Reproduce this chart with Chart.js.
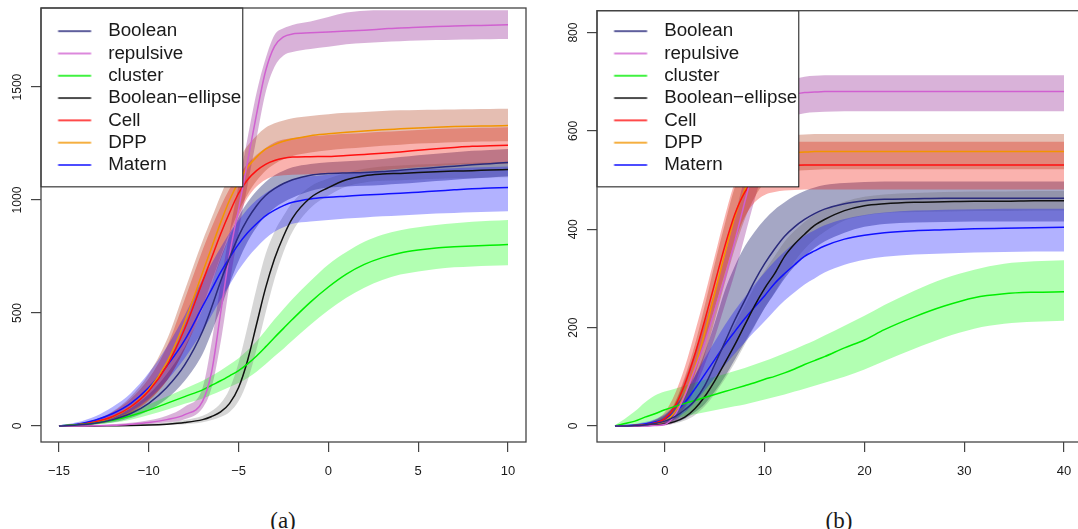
<!DOCTYPE html>
<html>
<head>
<meta charset="utf-8">
<script src="https://cdn.jsdelivr.net/npm/chart.js@4.4.1/dist/chart.umd.min.js"></script>
<style>
  html, body { margin: 0; padding: 0; background: #fff; overflow: hidden; }
  body { width: 1078px; height: 529px; position: relative; }
  canvas { position: absolute; top: 0; }
  #panelA { left: 0; }
  #panelB { left: 540px; }
  .caption {
    position: absolute; top: 507px; line-height: 28px;
    font-family: 'Liberation Serif', 'DejaVu Serif', serif; font-size: 23px; color: #1a1a1a;
    transform: translateX(-50%);
  }
</style>
</head>
<body>
<canvas id="panelA" width="540" height="490"></canvas>
<canvas id="panelB" width="560" height="490"></canvas>
<div class="caption" style="left:283px">(a)</div>
<div class="caption" style="left:839px">(b)</div>
<script>
// series, in legend order
const seriesNames = ['Boolean', 'repulsive', 'cluster', 'Boolean\u2212ellipse', 'Cell', 'DPP', 'Matern'];
const lineColors = ['#2a2a7c', '#d060d0', '#00ee00', '#111111', '#ff0f0f', '#f29400', '#1010ff'];
const bandColors = ['rgba(30,35,110,0.4)', 'rgba(128,0,128,0.3)', 'rgba(0,255,0,0.3)', 'rgba(90,90,90,0.25)',
                    'rgba(240,20,10,0.33)', 'rgba(168,40,0,0.3)', 'rgba(0,0,255,0.3)'];

// ---- panel (a) ----
const xA = [-15, -14, -13, -12, -11, -10, -9, -8, -7, -6.5, -6, -5.5, -5, -4.5, -4, -3.5, -3, -2.5, -2, -1, 0, 1, 2, 3, 4, 5, 6, 7, 8, 9, 10];
const xTicksA = [-15, -10, -5, 0, 5, 10];
const yTicksA = [0, 500, 1000, 1500];

const booleanA   = [0, 4, 12, 28, 55, 100, 170, 270, 420, 525, 640, 745, 840, 915, 975, 1020, 1050, 1073, 1090, 1110, 1117, 1120, 1122, 1126, 1132, 1138, 1144, 1150, 1156, 1161, 1166];
const booleanLoA = [0, 2, 6, 16, 35, 68, 120, 200, 320, 415, 520, 630, 730, 815, 880, 930, 965, 990, 1010, 1040, 1055, 1060, 1063, 1067, 1072, 1078, 1084, 1090, 1095, 1100, 1105];
const booleanHiA = [3, 8, 20, 42, 80, 140, 230, 350, 520, 630, 745, 840, 925, 990, 1040, 1080, 1110, 1130, 1145, 1160, 1167, 1172, 1176, 1182, 1190, 1198, 1205, 1212, 1218, 1222, 1226];

const repulsiveA   = [0, 0, 1, 3, 8, 15, 28, 50, 110, 240, 500, 760, 960, 1170, 1380, 1570, 1680, 1722, 1735, 1740, 1744, 1748, 1752, 1757, 1762, 1765, 1768, 1770, 1772, 1774, 1776];
const repulsiveLoA = [0, 0, 0, 1, 4, 8, 16, 30, 80, 170, 370, 630, 860, 1065, 1275, 1475, 1590, 1640, 1655, 1668, 1678, 1690, 1695, 1700, 1703, 1706, 1708, 1710, 1711, 1712, 1713];
const repulsiveHiA = [2, 3, 5, 8, 14, 25, 45, 85, 170, 370, 630, 860, 1065, 1275, 1475, 1625, 1730, 1760, 1775, 1790, 1810, 1830, 1838, 1840, 1840, 1840, 1840, 1840, 1840, 1840, 1840];

const clusterA   = [0, 5, 12, 25, 45, 70, 100, 130, 160, 180, 200, 222, 245, 275, 310, 350, 392, 432, 472, 548, 615, 672, 715, 745, 766, 779, 788, 793, 797, 800, 803];
const clusterLoA = [0, 2, 6, 14, 28, 48, 72, 98, 122, 138, 155, 172, 190, 212, 240, 273, 308, 342, 378, 448, 512, 568, 612, 646, 670, 684, 695, 702, 706, 709, 711];
const clusterHiA = [2, 10, 22, 40, 65, 95, 130, 165, 200, 222, 245, 272, 300, 335, 375, 423, 472, 518, 562, 642, 715, 770, 815, 846, 866, 879, 889, 897, 904, 908, 912];

const ellipseA   = [0, 0, 0, 1, 2, 4, 8, 15, 28, 42, 62, 100, 170, 290, 450, 610, 740, 840, 920, 1010, 1055, 1090, 1108, 1115, 1118, 1122, 1125, 1128, 1130, 1133, 1135];
const ellipseLoA = [0, 0, 0, 0, 1, 2, 4, 8, 16, 26, 40, 62, 110, 200, 340, 500, 650, 770, 860, 965, 1020, 1060, 1078, 1085, 1088, 1091, 1094, 1096, 1098, 1100, 1101];
const ellipseHiA = [1, 1, 2, 3, 5, 9, 15, 26, 45, 66, 100, 165, 280, 440, 610, 760, 860, 930, 990, 1060, 1095, 1120, 1138, 1148, 1153, 1157, 1160, 1163, 1165, 1167, 1169];

const cellA   = [0, 5, 18, 42, 85, 155, 265, 430, 640, 745, 850, 945, 1030, 1090, 1130, 1158, 1175, 1185, 1190, 1192, 1193, 1197, 1202, 1207, 1213, 1220, 1227, 1233, 1238, 1240, 1242];
const cellLoA = [0, 2, 10, 28, 60, 115, 200, 340, 520, 630, 735, 840, 930, 1010, 1060, 1090, 1105, 1110, 1112, 1114, 1116, 1120, 1126, 1132, 1138, 1145, 1150, 1155, 1158, 1160, 1162];
const cellHiA = [2, 10, 28, 62, 120, 210, 350, 560, 780, 880, 970, 1050, 1110, 1160, 1200, 1230, 1255, 1268, 1275, 1282, 1288, 1293, 1297, 1302, 1306, 1310, 1314, 1317, 1319, 1320, 1322];

const dppA   = [0, 4, 16, 40, 85, 160, 280, 460, 680, 790, 900, 1000, 1080, 1145, 1190, 1225, 1245, 1260, 1270, 1285, 1293, 1300, 1306, 1311, 1315, 1319, 1322, 1325, 1327, 1328, 1330];
const dppLoA = [0, 2, 8, 24, 55, 110, 200, 340, 530, 640, 750, 855, 950, 1025, 1085, 1130, 1160, 1180, 1195, 1210, 1220, 1228, 1234, 1240, 1245, 1250, 1253, 1256, 1258, 1259, 1260];
const dppHiA = [2, 9, 28, 65, 130, 230, 380, 600, 820, 920, 1020, 1110, 1180, 1240, 1285, 1320, 1340, 1352, 1362, 1372, 1380, 1386, 1390, 1394, 1397, 1399, 1400, 1401, 1402, 1403, 1404];

const maternA   = [0, 8, 25, 55, 100, 170, 265, 380, 530, 605, 680, 745, 805, 855, 895, 930, 955, 975, 990, 1005, 1012, 1017, 1022, 1026, 1030, 1035, 1040, 1045, 1050, 1053, 1056];
const maternLoA = [0, 3, 12, 32, 65, 120, 200, 300, 420, 490, 560, 625, 690, 745, 790, 830, 860, 880, 895, 905, 912, 918, 923, 928, 932, 936, 940, 943, 946, 948, 950];
const maternHiA = [3, 16, 42, 85, 145, 235, 350, 490, 650, 720, 790, 855, 910, 960, 1000, 1030, 1055, 1075, 1090, 1105, 1112, 1117, 1122, 1126, 1130, 1134, 1138, 1141, 1144, 1146, 1148];

// ---- panel (b) ----
const xB = [-5, -4, -3, -2, -1, 0, 1, 2, 3, 4, 5, 6, 7, 8, 9, 10, 11, 12, 13, 14, 15, 16, 18, 20, 22, 25, 28, 31, 34, 37, 40];
const xTicksB = [0, 10, 20, 30, 40];
const yTicksB = [0, 200, 400, 600, 800];

const booleanB   = [0, 0, 1, 2, 5, 10, 19, 33, 52, 82, 125, 170, 215, 255, 295, 330, 360, 386, 405, 420, 432, 441, 452, 458, 461, 462, 463, 463, 463, 463, 463];
const booleanLoB = [0, 0, 0, 0, 1, 3, 7, 15, 28, 45, 70, 100, 135, 170, 205, 240, 270, 300, 325, 345, 362, 375, 393, 405, 411, 414, 415, 416, 416, 416, 416];
const booleanHiB = [0, 1, 3, 6, 12, 22, 40, 65, 100, 150, 210, 275, 325, 365, 395, 420, 440, 455, 468, 478, 485, 490, 494, 496, 497, 497, 497, 497, 497, 497, 497];

const repulsiveB   = [0, 0, 0, 0, 1, 3, 22, 62, 115, 170, 235, 300, 375, 455, 530, 585, 640, 665, 674, 678, 679, 680, 680, 680, 680, 680, 680, 680, 680, 680, 680];
const repulsiveLoB = [0, 0, 0, 0, 0, 1, 8, 35, 75, 125, 180, 245, 310, 385, 460, 530, 585, 615, 630, 636, 638, 639, 640, 640, 640, 640, 640, 640, 640, 640, 640];
const repulsiveHiB = [0, 0, 1, 2, 5, 15, 45, 95, 150, 210, 275, 345, 425, 505, 575, 630, 670, 695, 705, 710, 712, 713, 713, 713, 713, 713, 713, 713, 713, 713, 713];

const clusterB   = [0, 5, 10, 18, 25, 33, 40, 46, 52, 58, 64, 70, 76, 82, 88, 95, 101, 108, 116, 125, 133, 141, 159, 175, 196, 222, 244, 261, 269, 272, 273];
const clusterLoB = [0, 1, 3, 6, 9, 12, 16, 20, 24, 28, 32, 36, 40, 44, 49, 54, 59, 64, 70, 76, 82, 88, 100, 115, 132, 157, 180, 198, 208, 212, 214];
const clusterHiB = [2, 15, 30, 48, 62, 70, 76, 82, 88, 94, 100, 106, 112, 118, 125, 132, 140, 148, 156, 165, 174, 184, 204, 224, 246, 275, 300, 318, 330, 335, 337];

const ellipseB   = [0, 0, 0, 1, 2, 4, 9, 18, 35, 60, 92, 128, 165, 205, 245, 280, 310, 345, 370, 390, 408, 420, 438, 448, 452, 455, 456, 457, 457, 458, 458];
const ellipseLoB = [0, 0, 0, 0, 1, 2, 5, 11, 22, 40, 65, 95, 128, 165, 203, 240, 272, 305, 335, 360, 380, 395, 418, 428, 433, 435, 436, 437, 437, 438, 438];
const ellipseHiB = [0, 0, 1, 2, 4, 8, 16, 30, 52, 85, 125, 165, 205, 245, 283, 315, 345, 375, 397, 415, 430, 440, 456, 466, 471, 474, 476, 477, 477, 478, 478];

const cellB   = [0, 0, 1, 2, 6, 15, 40, 85, 145, 215, 290, 365, 430, 475, 502, 516, 524, 528, 530, 531, 531, 531, 531, 531, 531, 531, 531, 531, 531, 531, 531];
const cellLoB = [0, 0, 0, 1, 3, 8, 22, 55, 105, 170, 240, 310, 375, 425, 455, 470, 476, 479, 480, 481, 481, 481, 481, 481, 481, 481, 481, 481, 481, 481, 481];
const cellHiB = [0, 1, 2, 5, 12, 28, 65, 120, 190, 265, 345, 425, 495, 540, 562, 572, 576, 578, 578, 578, 578, 578, 578, 578, 578, 578, 578, 578, 578, 578, 578];

const dppB   = [0, 0, 1, 2, 4, 10, 28, 65, 120, 190, 270, 350, 425, 480, 518, 538, 548, 553, 556, 557, 558, 558, 558, 558, 558, 558, 558, 558, 558, 558, 558];
const dppLoB = [0, 0, 0, 1, 2, 5, 15, 40, 85, 145, 215, 290, 360, 420, 465, 495, 510, 516, 519, 520, 521, 522, 522, 522, 522, 522, 522, 522, 522, 522, 522];
const dppHiB = [0, 1, 2, 4, 8, 20, 48, 100, 165, 245, 330, 410, 485, 535, 565, 580, 587, 590, 592, 593, 594, 594, 594, 594, 594, 594, 594, 594, 594, 594, 594];

const maternB   = [0, 1, 2, 4, 8, 14, 28, 48, 75, 105, 135, 165, 192, 218, 242, 265, 290, 310, 328, 345, 356, 366, 380, 388, 393, 397, 399, 401, 402, 403, 404];
const maternLoB = [0, 0, 0, 1, 3, 6, 14, 28, 48, 72, 98, 123, 147, 170, 192, 213, 235, 255, 272, 288, 300, 312, 328, 338, 344, 349, 351, 353, 354, 355, 355];
const maternHiB = [0, 2, 4, 8, 14, 24, 42, 68, 102, 138, 172, 205, 235, 262, 288, 312, 335, 355, 372, 387, 398, 408, 421, 429, 434, 438, 440, 441, 442, 442, 442];

const axisColor = '#444';
const textColor = '#1a1a1a';
const sansFamily = "'Liberation Sans', Arial, sans-serif";

Chart.defaults.font.family = sansFamily;

function toPoints(xs, ys) {
  return xs.map((x, i) => ({ x: x, y: ys[i] }));
}

// short line sample for the legend, padded on the left like R's legend()
function legendSwatch(color) {
  const c = document.createElement('canvas');
  c.width = 54;
  c.height = 4;
  const g = c.getContext('2d');
  g.strokeStyle = color;
  g.lineWidth = 1.5;
  g.beginPath();
  g.moveTo(13.5, 2);
  g.lineTo(46.5, 2);
  g.stroke();
  return c;
}

function buildDatasets(xs, means, lows, highs) {
  const sets = [];
  // bands: pushed last-to-first so the first series ends up underneath
  for (let i = means.length - 1; i >= 0; i--) {
    sets.push({
      label: seriesNames[i] + ' lower', data: toPoints(xs, lows[i]),
      borderWidth: 0, borderColor: 'rgba(0,0,0,0)', pointRadius: 0,
      fill: false, order: 1, cubicInterpolationMode: 'monotone'
    });
    sets.push({
      label: seriesNames[i] + ' upper', data: toPoints(xs, highs[i]),
      borderWidth: 0, borderColor: 'rgba(0,0,0,0)', pointRadius: 0,
      fill: '-1', backgroundColor: bandColors[i], order: 1, cubicInterpolationMode: 'monotone'
    });
  }
  means.forEach((m, i) => {
    sets.push({
      label: seriesNames[i], data: toPoints(xs, m),
      borderColor: lineColors[i], borderWidth: 1.5, pointRadius: 0,
      fill: false, order: 0, cubicInterpolationMode: 'monotone'
    });
  });
  return sets;
}

// plot frame plus an opaque legend box drawn over the data
const framePlugin = {
  id: 'frame',
  afterDatasetsDraw(chart) {
    const { ctx, chartArea: a } = chart;
    const lg = chart.legend;
    const boxes = lg.legendHitBoxes;
    const right = Math.max(...boxes.map(b => b.left + b.width)) + 1.5;
    const last = boxes[boxes.length - 1];
    const bottom = last.top + last.height + 12.5;

    ctx.save();
    ctx.fillStyle = '#fff';
    ctx.fillRect(a.left, a.top, right - a.left, bottom - a.top);
    ctx.strokeStyle = '#111';
    ctx.lineWidth = 1;
    ctx.strokeRect(a.left, a.top, right - a.left, bottom - a.top);
    ctx.strokeStyle = axisColor;
    ctx.lineWidth = 1.3;
    ctx.strokeRect(a.left, a.top, a.right - a.left, a.bottom - a.top);
    ctx.restore();
    lg.draw();
  }
};

function axisTickLabel(v) {
  return v < 0 ? '\u2212' + Math.abs(v) : String(v);
}

function makePanel(canvasId, cfg) {
  const ctx = document.getElementById(canvasId).getContext('2d');
  return new Chart(ctx, {
    type: 'line',
    data: { datasets: buildDatasets(cfg.xs, cfg.means, cfg.lows, cfg.highs) },
    options: {
      responsive: false,
      animation: false,
      devicePixelRatio: 1,
      events: [],
      layout: { padding: { left: 0, top: 8, right: cfg.rightPad, bottom: 0 } },
      plugins: {
        tooltip: { enabled: false },
        legend: {
          position: 'chartArea',
          align: 'start',
          title: { display: true, text: ' ', padding: { top: 13.25, bottom: 0 }, font: { size: 5, lineHeight: 1 } },
          labels: {
            usePointStyle: true,
            pointStyleWidth: 54.25,
            padding: 3.5,
            color: textColor,
            font: { family: sansFamily, size: 18.8 },
            generateLabels: () => seriesNames.map((name, i) => ({
              text: name,
              fillStyle: lineColors[i],
              strokeStyle: lineColors[i],
              lineWidth: 0,
              pointStyle: legendSwatch(lineColors[i]),
              fontColor: textColor,
              hidden: false,
              datasetIndex: i
            }))
          }
        }
      },
      scales: {
        x: {
          type: 'linear',
          min: cfg.xMin,
          max: cfg.xMax,
          afterBuildTicks: ax => { ax.ticks = cfg.xTicks.map(v => ({ value: v })); },
          afterFit: ax => { ax.height = 48; },
          border: { display: false },
          grid: { display: true, drawOnChartArea: false, drawTicks: true, tickLength: 10, color: axisColor, lineWidth: 1.2 },
          ticks: {
            color: textColor, font: { size: 13 }, padding: 12,
            maxRotation: 0, autoSkip: false, callback: axisTickLabel
          }
        },
        y: {
          type: 'linear',
          min: cfg.yMin,
          max: cfg.yMax,
          afterBuildTicks: ax => { ax.ticks = cfg.yTicks.map(v => ({ value: v })); },
          afterFit: ax => { ax.width = cfg.leftWidth; },
          border: { display: false },
          grid: { display: true, drawOnChartArea: false, drawTicks: true, tickLength: 10, color: axisColor, lineWidth: 1.2 },
          ticks: {
            color: textColor, font: { size: 12 }, padding: cfg.yLabelPad,
            minRotation: 90, maxRotation: 90, crossAlign: 'center', autoSkip: false,
            callback: axisTickLabel
          }
        }
      }
    },
    plugins: [framePlugin]
  });
}

makePanel('panelA', {
  xs: xA,
  means: [booleanA, repulsiveA, clusterA, ellipseA, cellA, dppA, maternA],
  lows: [booleanLoA, repulsiveLoA, clusterLoA, ellipseLoA, cellLoA, dppLoA, maternLoA],
  highs: [booleanHiA, repulsiveHiA, clusterHiA, ellipseHiA, cellHiA, dppHiA, maternHiA],
  xTicks: xTicksA, yTicks: yTicksA,
  xMin: -16, xMax: 11, yMin: -71, yMax: 1850,
  leftWidth: 41, rightPad: 14, yLabelPad: 0
});

makePanel('panelB', {
  xs: xB,
  means: [booleanB, repulsiveB, clusterB, ellipseB, cellB, dppB, maternB],
  lows: [booleanLoB, repulsiveLoB, clusterLoB, ellipseLoB, cellLoB, dppLoB, maternLoB],
  highs: [booleanHiB, repulsiveHiB, clusterHiB, ellipseHiB, cellHiB, dppHiB, maternHiB],
  xTicks: xTicksB, yTicks: yTicksB,
  xMin: -6.8, xMax: 41.8, yMin: -32.5, yMax: 844.5,
  leftWidth: 57, rightPad: 18, yLabelPad: 3.5
});
</script>
</body>
</html>
